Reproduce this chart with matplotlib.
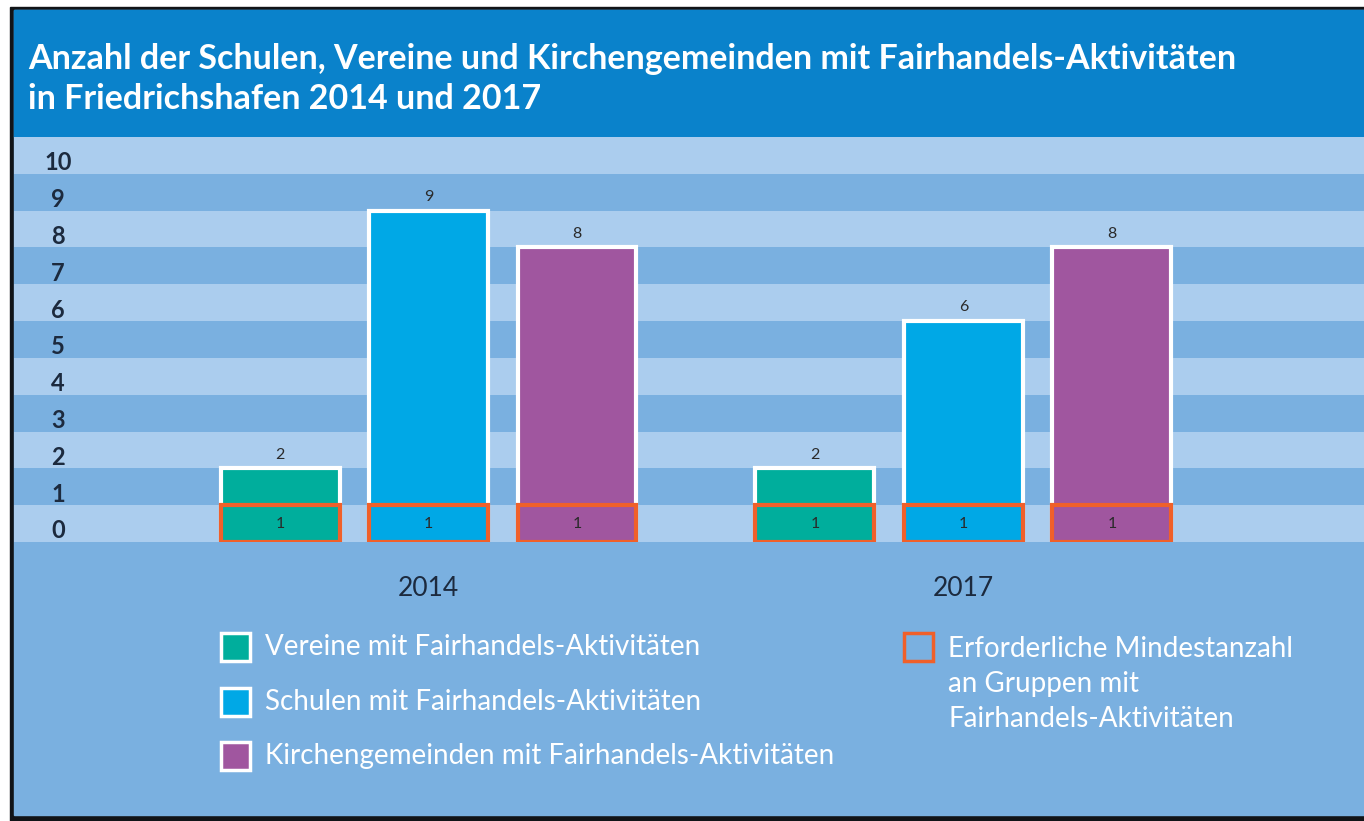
import matplotlib.pyplot as plt
from matplotlib.patches import Rectangle
import numpy as np

plt.rcParams['font.family'] = ['Lato', 'DejaVu Sans']

years = ["2014", "2017"]
series = ["Vereine mit Fairhandels-Aktivitäten",
          "Schulen mit Fairhandels-Aktivitäten",
          "Kirchengemeinden mit Fairhandels-Aktivitäten"]
vereine = [2, 2]
schulen = [9, 6]
kirchen = [8, 8]
minimum = [1, 1]
min_label = "Erforderliche Mindestanzahl\nan Gruppen mit\nFairhandels-Aktivitäten"
yticks = list(range(0, 11))
title = ("Anzahl der Schulen, Vereine und Kirchengemeinden mit Fairhandels-Aktivitäten\n"
         "in Friedrichshafen 2014 und 2017")

colors = ["#00ae9c", "#00a8e6", "#a0569f"]
orange = "#f0602a"
band_dark = "#0a82cb"
stripe_light = "#abcdee"
stripe_mid = "#7ab0e0"
tick_col = "#1c2a3e"

W, H = 1364, 821
fig = plt.figure(figsize=(W / 100, H / 100), dpi=100, facecolor="white")


def fx(px):
    return px / W


def fy(py):
    return 1 - py / H


# frame and backgrounds
fig.patches.append(Rectangle((fx(10), 0), 1, fy(7), transform=fig.transFigure,
                             color="#111418", zorder=-3))
fig.patches.append(Rectangle((fx(14), fy(815)), 1, fy(10) - fy(815),
                             transform=fig.transFigure, color=stripe_mid, zorder=-2))
fig.patches.append(Rectangle((fx(14), fy(137)), 1, fy(10) - fy(137),
                             transform=fig.transFigure, color=band_dark, zorder=-1))
fig.text(fx(28), fy(79), title, color="white", fontsize=24.5, fontweight="bold",
         va="center", ha="left", linespacing=1.32)

ax = fig.add_axes([fx(14), fy(542), 1 - fx(14), fy(137) - fy(542)], zorder=1)
ax.set_xlim(-0.775, 1.749)
ax.set_ylim(0, 11)
ax.axis("off")

# stripes
for i in range(11):
    ax.axhspan(i, i + 1, color=stripe_light if i % 2 == 0 else stripe_mid, zorder=0, lw=0)

for t in yticks:
    ax.text((fx(58) - fx(14)) / (1 - fx(14)), t + 0.3, str(t),
            transform=ax.get_yaxis_transform(),
            ha="center", va="center", fontsize=17, fontweight="bold", color=tick_col)

x = np.arange(len(years))
off = 0.2776
w = 0.2224
for k, vals in enumerate([vereine, schulen, kirchen]):
    xs = x + (k - 1) * off
    ax.bar(xs, vals, width=w, color=colors[k], edgecolor="white", linewidth=3, zorder=2)
    ax.bar(xs, minimum, width=w, color=colors[k], edgecolor=orange, linewidth=3, zorder=3)
    for xi, v, m in zip(xs, vals, minimum):
        ax.text(xi, v + 0.18, str(v), ha="center", va="bottom", fontsize=11.5, color="#2a2a2a")
        ax.text(xi, m / 2, str(m), ha="center", va="center", fontsize=11.5, color="#2a2a2a",
                zorder=4)

for xi, yr in zip(x, years):
    ax.text(xi, -1.25, yr, ha="center", va="center", fontsize=19, color="#1c2a3e",
            clip_on=False)

# legend
leg_y = [647, 702, 756]
for k, lab in enumerate(series):
    fig.patches.append(Rectangle((fx(221), fy(leg_y[k] + 14)), fx(29), fy(0) - fy(28),
                                 transform=fig.transFigure, facecolor=colors[k],
                                 edgecolor="white", linewidth=2.5, zorder=2))
    fig.text(fx(265), fy(leg_y[k]), lab, color="white", fontsize=20, va="center", ha="left")

fig.patches.append(Rectangle((fx(904), fy(661)), fx(29), fy(0) - fy(28),
                             transform=fig.transFigure, facecolor=stripe_mid,
                             edgecolor=orange, linewidth=2.5, zorder=2))
fig.text(fx(948), fy(684), min_label, color="white", fontsize=20, va="center", ha="left",
         linespacing=1.42)

fig.savefig("out.png", dpi=100, facecolor=fig.get_facecolor())
